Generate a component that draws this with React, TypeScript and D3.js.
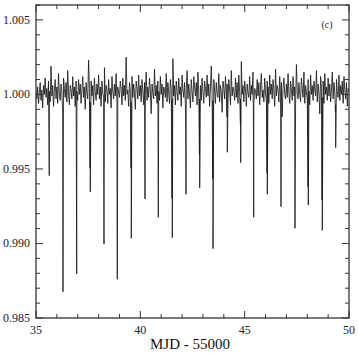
import React from "react";
import * as d3 from "d3";

// Transit mid-times (MJD - 55000), depths at minimum and partial (ingress) flux
const dipTimes = [35.637, 36.294, 36.95, 37.602, 38.259, 38.896, 39.567, 40.224, 40.861, 41.532, 42.188, 42.845, 43.482, 44.168, 44.81, 45.433, 46.085, 46.741, 47.412, 48.05, 48.72, 49.362];
const dipFlux = [0.99455, 0.98676, 0.98795, 0.99347, 0.98996, 0.9876, 0.99035, 0.99298, 0.99176, 0.99039, 0.9933, 0.99374, 0.98965, 0.99612, 0.99542, 0.99176, 0.9933, 0.99247, 0.99102, 0.99258, 0.99088, 0.99643];
const dipPartial = [0.99616, 0.99482, 0.99406, 0.99504, 0.99426, 0.9928, 0.99504, 0.99594, 0.99616, 0.99303, 0.9975, 0.99594, 0.99437, 0.9985, 0.99795, 0.99817, 0.99471, 0.99775, 0.99761, 0.99381, 0.99292, 0.9988];

// Out-of-transit flux, deviations from 1 in units of 1e-4, sampled every 0.04 d from 35.00
const baseStart = 35;
const baseStep = 0.04;
const baseDev = [
  2, -3, 5, -6, 1, 8, -4, 3, -9, 6, 0, 11, -2, 4, -7, 9, 2, -5, 19, -1, 6, -8, 3, 10, -3,
  5, -6, 14, 0, -4, 7, 2, -14, 11, 4, -2, 8, -5, 16, 1, -7, 6, 3, -3, 12, -1, 5, -8, 9, 2,
  -4, 10, 0, 7, -6, 3, 12, -2, 5, -10, 8, 1, -3, 23, 4, -5, 9, -1, 6, -7, 11, 2, -4, 7, 0,
  13, -3, 5, -8, 9, 1, -2, 18, -5, 6, 3, -6, 10, 0, 4, -9, 12, 2, -3, 7, -1, 14, -6, 5, 1,
  -2, 9, 4, -7, 11, -1, 6, -4, 25, 0, 3, -8, 8, 2, -5, 12, -2, 7, 1, -10, 9, 4, -3, 13, -1,
  6, -5, 10, 2, -7, 8, 0, 15, -4, 5, -2, 11, 3, -13, 7, 1, -3, 17, -1, 6, -6, 9, 2, -4, 12,
  0, 7, -9, 5, 3, -2, 14, -5, 8, 1, -6, 10, 4, -3, 24, -1, 6, -7, 9, 2, -4, 11, 0, 5, -8,
  13, 3, -2, 8, -6, 4, 16, -3, 7, 0, -9, 10, 2, -5, 12, 5, -1, 8, -7, 15, 1, -3, 6, -4, 11,
  2, -6, 9, 4, -2, 13, -1, 7, -8, 5, 19, 0, -4, 10, 3, -6, 8, 1, -2, 14, -5, 6, 2, -12, 9,
  4, -3, 12, 0, 7, -5, 10, 3, -7, 16, -1, 5, 2, -4, 11, -2, 8, -6, 13, 1, -3, 22, 0, 6, -5,
  9, 3, -8, 7, 1, -2, 12, -4, 6, 0, 15, -6, 4, 2, -3, 10, -1, 8, -7, 5, 14, -2, 3, -5, 11,
  1, -4, 9, 5, -6, 13, 0, 7, -3, 10, 2, -8, 17, -1, 6, 3, -5, 12, -2, 8, -15, 4, 11, 0, -3,
  7, -2, 14, 1, -6, 9, 3, -4, 12, -1, 5, -7, 20, 2, -3, 8, 0, -5, 11, 4, -2, 15, -6, 6, 1,
  -3, 10, 2, -7, 13, 0, 6, -4, 9, 3, -1, 16, -5, 7, 1, -13, 12, 4, -2, 9, -6, 14, 0, 5, -4,
  11, -1, 7, -5, 3, 15, -3, 8, 1, -7, 10, 2, -2, 13, -4, 6, 0, 9, -6, 12, 3, -3, 8, -8, 4, 2,
];

const xMajor = [35, 40, 45, 50];
const xMinor = d3.range(35, 51, 1);
const yMajor = [0.985, 0.99, 0.995, 1.0, 1.005];
const yMinor = d3.range(0, 22).map((i) => 0.985 + i * 0.001);
const yLabels = ["0.985", "0.990", "0.995", "1.000", "1.005"];
const xLabel = "MJD - 55000";
const panelTag = "(c)";

const W = 358;
const H = 353;
const L = 36, R = 349, T = 5, B = 318;

export default function App() {
  const x = d3.scaleLinear().domain([35, 50]).range([L, R]);
  const y = d3.scaleLinear().domain([0.985, 1.006]).range([B, T]);

  const pts: [number, number][] = baseDev.map((d, i) => [baseStart + i * baseStep, 1 + d * 1e-4]);
  dipTimes.forEach((t, i) => {
    pts.push([t - 0.012, dipPartial[i]]);
    pts.push([t, dipFlux[i]]);
  });
  pts.sort((a, b) => a[0] - b[0]);
  const line = d3
    .line<[number, number]>()
    .x((d) => x(d[0]))
    .y((d) => y(d[1]));

  const axisColor = "#333";
  const font = "'Liberation Serif', 'Times New Roman', serif";

  return (
    <svg width={W} height={H} style={{ position: "absolute", left: 0, top: 0, background: "#fff" }}>
      <defs>
        <clipPath id="plotclip">
          <rect x={L} y={T} width={R - L} height={B - T} />
        </clipPath>
      </defs>
      <path d={line(pts) || ""} fill="none" stroke="#1a1a1a" strokeWidth={0.85} clipPath="url(#plotclip)" />
      <rect x={L} y={T} width={R - L} height={B - T} fill="none" stroke={axisColor} strokeWidth={1.3} />
      {xMinor.map((v) => {
        const major = xMajor.includes(v);
        const len = major ? 7 : 4;
        return (
          <g key={"xt" + v}>
            <line x1={x(v)} x2={x(v)} y1={B} y2={B - len} stroke={axisColor} strokeWidth={1} />
            <line x1={x(v)} x2={x(v)} y1={T} y2={T + len} stroke={axisColor} strokeWidth={1} />
          </g>
        );
      })}
      {yMinor.map((v, i) => {
        const major = i % 5 === 0;
        const len = major ? 7 : 4;
        return (
          <g key={"yt" + i}>
            <line x1={L} x2={L + len} y1={y(v)} y2={y(v)} stroke={axisColor} strokeWidth={1} />
            <line x1={R} x2={R - len} y1={y(v)} y2={y(v)} stroke={axisColor} strokeWidth={1} />
          </g>
        );
      })}
      {xMajor.map((v) => (
        <text key={"xl" + v} x={x(v)} y={334} textAnchor="middle" fontFamily={font} fontSize={12} fill="#222">
          {v}
        </text>
      ))}
      {yMajor.map((v, i) => (
        <text key={"yl" + v} x={30} y={y(v) + 4} textAnchor="end" fontFamily={font} fontSize={12} fill="#222">
          {yLabels[i]}
        </text>
      ))}
      <text x={190} y={349} textAnchor="middle" fontFamily={font} fontSize={15} fill="#111">
        {xLabel}
      </text>
      <text x={327} y={28} textAnchor="middle" fontFamily={font} fontSize={10} fill="#222">
        {panelTag}
      </text>
    </svg>
  );
}
